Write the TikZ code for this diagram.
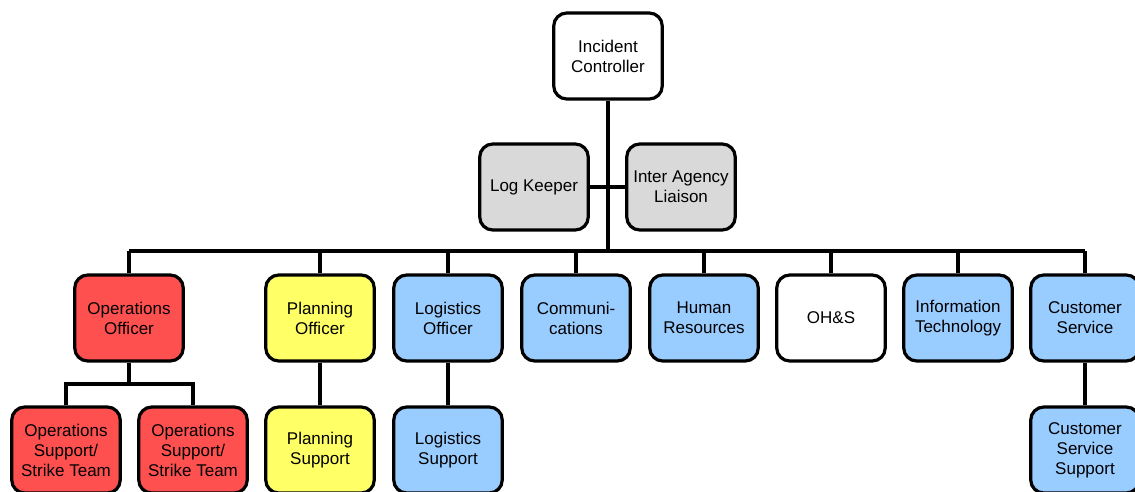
\documentclass[tikz,border=0pt]{standalone}
\usepackage{fontspec}
\setmainfont{Liberation Sans}
\definecolor{opsred}{HTML}{FF5050}
\definecolor{planyellow}{HTML}{FFFF66}
\definecolor{staffblue}{HTML}{99CCFF}
\definecolor{liaisongray}{HTML}{D9D9D9}

\begin{document}
\begin{tikzpicture}[x=1pt, y=-1pt,
    role/.style={draw, line width=3.2pt, rounded corners=13pt, fill=white,
      minimum width=108.5pt, minimum height=86pt, inner sep=1pt, align=center,
      font=\fontsize{17}{20}\selectfont},
    wire/.style={line width=3.2pt}]
  \useasboundingbox (0,0) rectangle (1135,491);
  \clip (0,0) rectangle (1135,491);
  % top
  \node[role] (ic) at (608,56) {Incident\\Controller};
  % staff beside the controller
  \node[role, fill=liaisongray] (lk) at (534,187) {Log Keeper};
  \node[role, fill=liaisongray] (ia) at (681,187) {Inter Agency\\Liaison};
  % second row
  \node[role, fill=opsred] (ops) at (129,318) {Operations\\Officer};
  \node[role, fill=planyellow] (plan) at (320,318) {Planning\\Officer};
  \node[role, fill=staffblue] (logi) at (448,318) {Logistics\\Officer};
  \node[role, fill=staffblue] (comm) at (576,318) {Communi-\\cations};
  \node[role, fill=staffblue] (hr) at (704,318) {Human\\Resources};
  \node[role] (ohs) at (831,318) {OH\&S};
  \node[role, fill=staffblue] (it) at (958,318) {Information\\Technology};
  \node[role, fill=staffblue] (cs) at (1085,318) {Customer\\Service};
  % third row
  \node[role, fill=opsred] (ops1) at (66,450) {Operations\\Support/\\Strike Team};
  \node[role, fill=opsred] (ops2) at (193,450) {Operations\\Support/\\Strike Team};
  \node[role, fill=planyellow] (plansup) at (320,450) {Planning\\Support};
  \node[role, fill=staffblue] (logisup) at (448,450) {Logistics\\Support};
  \node[role, fill=staffblue] (cssup) at (1085,450) {Customer\\Service\\Support};
  % connectors
  \coordinate (busL) at (129,251);
  \coordinate (busR) at (1085,251);
  \coordinate (opsfork) at (129,384);
  \draw[wire] (ic.south) -- (ic.south |- busL);
  \draw[wire] (lk.east) -- (ia.west);
  \draw[wire] (busL) -- (busR);
  \foreach \n in {ops,plan,logi,comm,hr,ohs,it,cs}
    \draw[wire] (\n.north) -- (\n.north |- busL);
  \draw[wire] (ops.south) -- (opsfork);
  \draw[wire] (ops1.north) |- (opsfork) -| (ops2.north);
  \draw[wire] (plan.south) -- (plansup.north);
  \draw[wire] (logi.south) -- (logisup.north);
  \draw[wire] (cs.south) -- (cssup.north);
\end{tikzpicture}
\end{document}
